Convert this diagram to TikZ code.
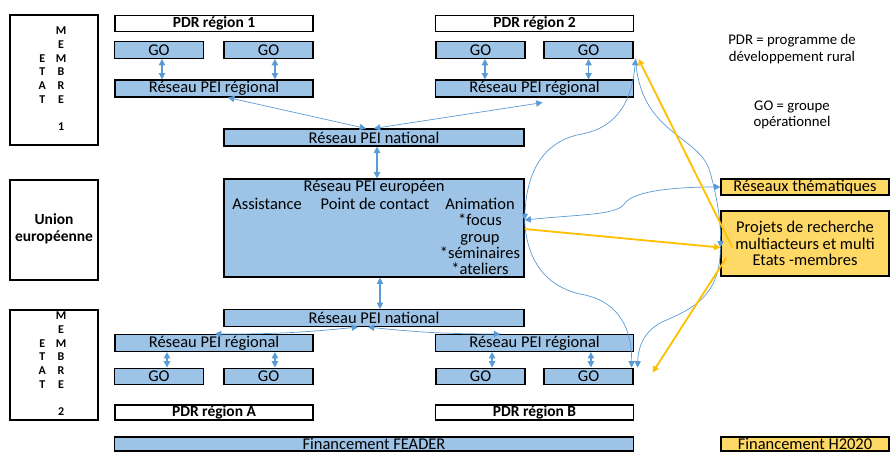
\documentclass[tikz,border=0pt]{standalone}
\usepackage{fontspec}
\setmainfont{Carlito}
\usetikzlibrary{arrows.meta}
\definecolor{peiblue}{HTML}{9DC3E6}
\definecolor{peiline}{HTML}{5B9BD5}
\definecolor{hfill}{HTML}{FFD966}
\definecolor{hline}{HTML}{FFC000}

\begin{document}
\begin{tikzpicture}[x=0.025cm, y=-0.025cm,
  every node/.style={inner sep=0pt, font=\fontsize{11.7}{11.6}\selectfont},
  sidebox/.style={draw, line width=0.8pt, fill=white, minimum width=2.2cm},
  pdrbox/.style={draw, line width=0.8pt, fill=white, minimum width=4.95cm, minimum height=0.4cm, font=\fontsize{11}{12}\selectfont\bfseries},
  gobox/.style={draw, line width=0.8pt, fill=peiblue, minimum width=2.225cm, minimum height=0.42cm},
  regbox/.style={draw, line width=0.8pt, fill=peiblue, minimum width=4.95cm, minimum height=0.425cm},
  natbox/.style={draw, line width=0.8pt, fill=peiblue, minimum width=7.5cm, minimum height=0.425cm},
  ybox/.style={draw, line width=0.8pt, fill=hfill, minimum width=4.2cm},
  tip/.tip={Triangle[length=4.5pt, width=4.5pt]},
  vlink/.style={peiline, line width=0.9pt, tip-tip},
  link/.style={peiline, line width=0.5pt, tip-tip},
  clink/.style={peiline, line width=0.5pt},
  ylink/.style={hline, line width=1.3pt, -tip}
]
\useasboundingbox (0,0) rectangle (891,452);
\clip (0,0) rectangle (891,452);

\node[sidebox, minimum height=3.25cm] (etat1) at (54,80) {};
\node[font=\fontsize{8.5}{9.8}\selectfont\bfseries] (etat1lbl) at (52.5,80) {\begin{tabular}{@{}c@{\hspace{7pt}}c@{}} & M\\ & E\\ E & M\\ T & B\\ A & R\\ T & E\\ & \\ & 1\end{tabular}};
\node[pdrbox] (pdr1) at (214,23.5) {PDR région 1};
\node[gobox] (go1a) at (159,50) {GO};
\node[gobox] (go1b) at (268.5,50) {GO};
\node[regbox] (reg1) at (214,88.5) {Réseau PEI régional};
\node[pdrbox] (pdr2) at (534.5,23.5) {PDR région 2};
\node[gobox] (go2a) at (480.5,50) {GO};
\node[gobox] (go2b) at (588.5,50) {GO};
\node[regbox] (reg2) at (534.5,88.5) {Réseau PEI régional};
\node[natbox] (nat1) at (374,137.5) {Réseau PEI national};

\node[sidebox, minimum height=2.5cm] (ue) at (54,230) {};
\node[align=center, font=\fontsize{11}{12}\selectfont\bfseries] (uelbl) at (54,228.5) {Union\\européenne};
\node[natbox, minimum height=2.45cm] (eu) at (374,228) {};
\node (eutitle) at (374,187) {Réseau PEI européen};
\node (euassist) at (267,204) {Assistance};
\node (eucontact) at (375,204) {Point de contact};
\node[align=center] (euanim) at (480,236.5) {Animation\\*focus\\group\\*séminaires\\*ateliers};

\node[ybox, minimum height=0.4cm] (them) at (805,187) {Réseaux thématiques};
\node[ybox, minimum height=1.625cm, align=center] (proj) at (805,243.5) {Projets de recherche\\multiacteurs et multi\\Etats -membres};

\node[natbox] (nat2) at (374,318) {Réseau PEI national};
\node[sidebox, minimum height=2.75cm] (etat2) at (54,365) {};
\node[font=\fontsize{8.5}{9.8}\selectfont\bfseries] (etat2lbl) at (52.5,365) {\begin{tabular}{@{}c@{\hspace{7pt}}c@{}} & M\\ & E\\ E & M\\ T & B\\ A & R\\ T & E\\ & \\ & 2\end{tabular}};
\node[regbox] (reg3) at (214,343) {Réseau PEI régional};
\node[regbox] (reg4) at (534.5,343) {Réseau PEI régional};
\node[gobox] (go3a) at (159,376.5) {GO};
\node[gobox] (go3b) at (268.5,376.5) {GO};
\node[gobox] (go4a) at (480.5,376.5) {GO};
\node[gobox] (go4b) at (588.5,376.5) {GO};
\node[pdrbox, minimum height=0.375cm] (pdrA) at (214,412.5) {PDR région A};
\node[pdrbox, minimum height=0.375cm] (pdrB) at (534.5,412.5) {PDR région B};

\node[regbox, minimum width=12.95cm, minimum height=0.35cm] (feader) at (374,444) {Financement FEADER};
\node[ybox, minimum height=0.35cm] (h2020) at (805,444) {Financement H2020};

\node[align=center, font=\fontsize{10.5}{11.6}\selectfont] (pdrdef) at (792,49) {PDR = programme de\\développement rural};
\node[align=center, font=\fontsize{10.5}{11.6}\selectfont] (godef) at (792,115) {GO = groupe\\opérationnel};

\draw[vlink] ([xshift=0.075cm]go1a.south) -- ([xshift=0.075cm]go1a.south |- reg1.north);
\draw[vlink] ([xshift=0.16cm]go1b.south) -- ([xshift=0.16cm]go1b.south |- reg1.north);
\draw[vlink] ([xshift=0.11cm]go2a.south) -- ([xshift=0.11cm]go2a.south |- reg2.north);
\draw[vlink] (go2b.south) -- (go2b.south |- reg2.north);
\draw[vlink] ([xshift=0.2cm]go3a.north) -- ([xshift=0.2cm]go3a.north |- reg3.south);
\draw[vlink] ([xshift=0.16cm]go3b.north) -- ([xshift=0.16cm]go3b.north |- reg3.south);
\draw[vlink] ([xshift=0.29cm]go4a.north) -- ([xshift=0.29cm]go4a.north |- reg4.south);
\draw[vlink] ([xshift=0.06cm]go4b.north) -- ([xshift=0.06cm]go4b.north |- reg4.south);

\draw[link] ([xshift=0.35cm]reg1.south) -- ([xshift=-0.2cm]nat1.north);
\draw[link] (nat1.north) -- ([xshift=0.2cm, yshift=-0.125cm]reg2.south);
\draw[vlink] ([xshift=0.075cm]nat1.south) -- ([xshift=0.075cm]eu.north);
\draw[vlink] ([xshift=0.15cm]eu.south) -- ([xshift=0.15cm]nat2.north);
\draw[link] ([xshift=-0.4cm]nat2.south) to[bend left=3] ([xshift=0.025cm]reg3.north);
\draw[link] ([xshift=-0.15cm]nat2.south) to[bend right=3] ([xshift=-0.86cm]reg4.north);

\coordinate (euR) at ([yshift=0.2cm]eu.east);
\coordinate (euY) at ([yshift=-0.025cm]eu.east);
\coordinate (projL) at ([yshift=-0.1cm]proj.west);
\coordinate (go2bC) at ([xshift=0.05cm]go2b.south east);
\coordinate (go4bC) at ([xshift=0.1cm]go4b.north east);
\coordinate (go4bD) at ([xshift=-0.05cm]go4b.north east);
\coordinate (projY) at ([xshift=0.3cm]projL);
\coordinate (projZ) at ([xshift=0.15cm, yshift=-0.25cm]projL);
\coordinate (go2bY) at ([xshift=0.125cm]go2b.south east);
\coordinate (go4bY) at ([xshift=0.475cm, yshift=-0.125cm]go4b.north east);

\draw[clink, tip-tip] (euR) .. controls (527,165) and (548,140) .. (582,134) .. controls (618,127) and (632,100) .. (go2bC);
\draw[clink, -tip] (go2bC) .. controls (640,135) and (700,135) .. (710,172) .. controls (718,200) and (721,225) .. (projL);
\draw[clink, -tip] (projL) .. controls (720,295) and (695,308) .. (662,322) .. controls (642,332) and (638,350) .. (go4bC);
\draw[clink, -tip] (euR) .. controls (527,270) and (555,290) .. (585,295) .. controls (620,303) and (632,330) .. (go4bD);
\draw[clink, tip-tip] (euR) .. controls (585,214) and (618,215) .. (625,203) .. controls (635,190) and (680,187) .. (them.west);

\draw[ylink] (euY) -- (projL);
\draw[ylink] (projY) -- (go2bY);
\draw[ylink] (projZ) -- (go4bY);
\end{tikzpicture}
\end{document}
